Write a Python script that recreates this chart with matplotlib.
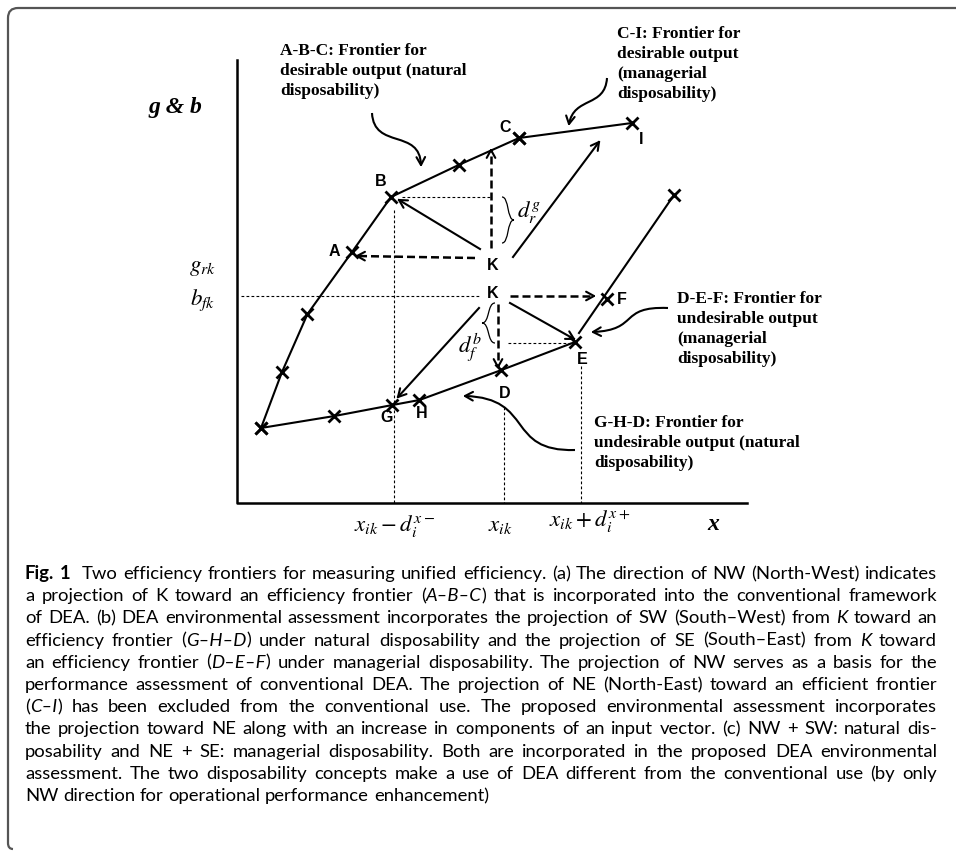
import numpy as np
import matplotlib
matplotlib.use("Agg")
import matplotlib.pyplot as plt
from matplotlib.path import Path
from matplotlib.patches import PathPatch
from matplotlib.font_manager import FontProperties

plt.rcParams['mathtext.fontset'] = 'stix'

# frontier points, positions on the 956x852 canvas (y grows downward)
nat_good_x = [261, 282, 307.5, 352, 391, 458.6, 519]
nat_good_y = [428, 372, 314, 252, 197, 165, 138]
man_good_x = [519, 632]
man_good_y = [138, 123]
nat_bad_x = [261, 334.5, 392.5, 419.5, 501.5, 575]
nat_bad_y = [428, 416, 405, 400, 370, 342]
man_bad_x = [579, 674]
man_bad_y = [333, 195]
extra_marks_x = [607, 674]
extra_marks_y = [299, 195]

point_names = ['A', 'B', 'C', 'I', 'K', 'K', 'F', 'E', 'D', 'G', 'H']
name_x = [334, 381, 505, 641, 493, 493, 622, 582, 505, 387, 422]
name_y = [252, 182, 128, 140, 265, 294, 300, 359, 394, 418, 413]

# projections from K: (x0, y0, x1, y1, dashed)
projections = [
    (480, 249, 399, 200, False),
    (513, 257, 599, 142, False),
    (475, 258, 357, 256, True),
    (491, 248, 491, 150, True),
    (510, 296, 594, 296, True),
    (498, 304, 498, 367, True),
    (479, 308, 398, 397, False),
    (510, 303, 574, 339, False),
]

# thin guide lines
guides = [
    (402, 197, 491, 197),
    (394, 210, 394, 503),
    (241, 296, 480, 296),
    (504, 407, 504, 503),
    (581, 366, 581, 503),
    (508, 343, 571, 343),
]

notes = [
    (280, 52, "A-B-C: Frontier for\ndesirable output (natural\ndisposability)"),
    (617, 35, "C-I: Frontier for\ndesirable output\n(managerial\ndisposability)"),
    (677, 300, "D-E-F: Frontier for\nundesirable output\n(managerial\ndisposability)"),
    (594, 424, "G-H-D: Frontier for\nundesirable output (natural\ndisposability)"),
]

# curved pointers: start, control1, control2, end
pointers = [
    [(372, 113), (374, 150), (420, 128), (421, 165)],
    [(607, 78), (605, 108), (574, 96), (569, 124)],
    [(668, 308), (618, 306), (640, 330), (593, 332)],
    [(575, 450), (505, 452), (535, 398), (465, 396)],
]

caption = [
    [("Fig. 1", "b"), ("  Two efficiency frontiers for measuring unified efficiency. (a) The direction of NW (North-West) indicates", "n")],
    [("a projection of K toward an efficiency frontier (", "n"), ("A–B–C", "i"), (") that is incorporated into the conventional framework", "n")],
    [("of DEA. (b) DEA environmental assessment incorporates the projection of SW (South–West) from ", "n"), ("K", "i"), (" toward an", "n")],
    [("efficiency frontier (", "n"), ("G–H–D", "i"), (") under natural disposability and the projection of SE (South–East) from ", "n"), ("K", "i"), (" toward", "n")],
    [("an efficiency frontier (", "n"), ("D–E–F", "i"), (") under managerial disposability. The projection of NW serves as a basis for the", "n")],
    [("performance assessment of conventional DEA. The projection of NE (North-East) toward an efficient frontier", "n")],
    [("(", "n"), ("C–I", "i"), (") has been excluded from the conventional use. The proposed environmental assessment incorporates", "n")],
    [("the projection toward NE along with an increase in components of an input vector. (c) NW + SW: natural dis-", "n")],
    [("posability and NE + SE: managerial disposability. Both are incorporated in the proposed DEA environmental", "n")],
    [("assessment. The two disposability concepts make a use of DEA different from the conventional use (by only", "n")],
    [("NW direction for operational performance enhancement)", "n")],
]


def arrowhead(ax, x0, y0, x1, y1, size=9, lw=1.5):
    d = np.array([x1 - x0, y1 - y0], dtype=float)
    d /= np.hypot(d[0], d[1])
    for ang in (0.5, -0.5):
        c, s = np.cos(ang), np.sin(ang)
        r = np.array([c * d[0] - s * d[1], s * d[0] + c * d[1]])
        ax.plot([x1, x1 - size * r[0]], [y1, y1 - size * r[1]], color='k', lw=lw,
                solid_capstyle='round')


def brace(ax, x, y0, y1, w):
    ym = (y0 + y1) / 2
    verts = [(x, y0), (x + w * 0.6, y0), (x + w * 0.4, ym), (x + w, ym),
             (x + w * 0.4, ym), (x + w * 0.6, y1), (x, y1)]
    codes = [Path.MOVETO] + [Path.CURVE4] * 6
    ax.add_patch(PathPatch(Path(verts, codes), fill=False, lw=0.9, color='k'))


fig = plt.figure(figsize=(9.56, 8.52), dpi=100)
ax = fig.add_axes([0, 0, 1, 1])
ax.set_xlim(0, 956)
ax.set_ylim(852, 0)
ax.axis('off')

# frame
fv = [(956, 8), (18, 8), (8, 8), (8, 18), (8, 843), (8, 849), (13, 849)]
fc = [Path.MOVETO, Path.LINETO, Path.CURVE3, Path.CURVE3, Path.LINETO, Path.CURVE3, Path.CURVE3]
ax.add_patch(PathPatch(Path(fv, fc), fill=False, lw=1.6, color='#555555'))

# axes of the diagram
ax.plot([237, 237, 747], [60, 503, 503], color='k', lw=1.8)

for x0, y0, x1, y1 in guides:
    ax.plot([x0, x1], [y0, y1], color='k', lw=0.8, linestyle=(0, (2.5, 2)))

ax.plot(nat_good_x, nat_good_y, color='k', lw=1.5, marker='x', ms=8, mew=2)
ax.plot(man_good_x, man_good_y, color='k', lw=1.5, marker='x', ms=8, mew=2)
ax.plot(nat_bad_x, nat_bad_y, color='k', lw=1.5, marker='x', ms=8, mew=2)
ax.plot(man_bad_x, man_bad_y, color='k', lw=1.5)
ax.plot(extra_marks_x, extra_marks_y, 'x', color='k', ms=8, mew=2)

for x0, y0, x1, y1, dashed in projections:
    if dashed:
        ax.plot([x0, x1], [y0, y1], color='k', lw=1.8, linestyle=(0, (3.2, 1.6)))
    else:
        ax.plot([x0, x1], [y0, y1], color='k', lw=1.5)
    arrowhead(ax, x0, y0, x1, y1)

for pts in pointers:
    p = Path(pts, [Path.MOVETO, Path.CURVE4, Path.CURVE4, Path.CURVE4])
    ax.add_patch(PathPatch(p, fill=False, lw=1.5, color='k'))
    arrowhead(ax, pts[2][0], pts[2][1], pts[3][0], pts[3][1])

brace(ax, 502, 197, 243, 12)
brace(ax, 495, 303, 343, -13)

for n, x, y in zip(point_names, name_x, name_y):
    ax.text(x, y, n, ha='center', va='center', fontsize=11.5, fontweight='bold',
            family='Liberation Sans')

for x, y, s in notes:
    ax.text(x, y - 9, s, ha='left', va='top', fontsize=12.5, fontweight='bold',
            family='Liberation Serif', linespacing=1.33)

ax.text(175, 108, "g & b", ha='center', va='center', fontsize=17, fontweight='bold',
        style='italic', family='Liberation Serif')
ax.text(713, 525, "x", ha='center', va='center', fontsize=17, fontweight='bold',
        style='italic', family='Liberation Serif')
ax.text(203, 266, r'$g_{rk}$', ha='center', va='center', fontsize=16.5)
ax.text(203, 300, r'$b_{fk}$', ha='center', va='center', fontsize=16.5)
ax.text(529, 212, r'$d_r^g$', ha='center', va='center', fontsize=16.5)
ax.text(470, 347, r'$d_f^b$', ha='center', va='center', fontsize=16.5)
ax.text(395, 526, r'$x_{ik}-d_i^{x-}$', ha='center', va='center', fontsize=16.5)
ax.text(500, 524, r'$x_{ik}$', ha='center', va='center', fontsize=16.5)
ax.text(590, 521, r'$x_{ik}+d_i^{x+}$', ha='center', va='center', fontsize=16.5)

# caption, justified word by word
fonts = {
    'n': FontProperties(family='Lato', size=13.3),
    'i': FontProperties(family='Lato', style='italic', size=13.3),
    'b': FontProperties(family='Lato', weight='bold', size=13.3),
}
renderer = fig.canvas.get_renderer()


def width(s, st):
    return renderer.get_text_width_height_descent(s, fonts[st], ismath=False)[0]


left, right = 25, 937
space = width("a a", 'n') - width("aa", 'n')
for i, runs in enumerate(caption):
    words = [[]]
    for txt, st in runs:
        parts = txt.split(' ')
        for k, part in enumerate(parts):
            if k > 0:
                words.append([])
            if part:
                words[-1].append((part, st))
    words = [w for w in words if w]
    wsum = [sum(width(p, st) for p, st in w) for w in words]
    # wider gap after the "Fig. 1" label
    weights = [2.2 if (i == 0 and j == 1) else 1.0 for j in range(len(words) - 1)]
    if i < len(caption) - 1:
        gap = (right - left - sum(wsum)) / sum(weights)
    else:
        gap = space
    y = 579 + i * 22.2
    x = left
    for j, (w, ww) in enumerate(zip(words, wsum)):
        xx = x
        for p, st in w:
            ax.text(xx, y, p, ha='left', va='baseline', fontproperties=fonts[st])
            xx += width(p, st)
        if j < len(weights):
            x += ww + gap * weights[j]

fig.savefig('out.png', dpi=100)
